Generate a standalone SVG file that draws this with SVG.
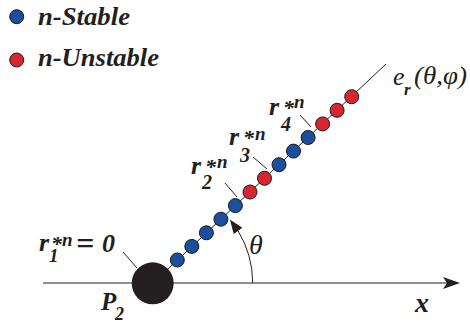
<svg xmlns="http://www.w3.org/2000/svg" width="470" height="324" viewBox="0 0 470 324">
<style>
text{font-family:"Liberation Serif","Times New Roman",serif;fill:#231f20}
.bi{font-weight:bold;font-style:italic}
.it{font-style:italic}
.b{fill:#1b4f9e;stroke:#1a1a1a;stroke-width:1}
.r{fill:#d7262f;stroke:#1a1a1a;stroke-width:1}
.ln{stroke:#231f20;stroke-width:1;fill:none}
</style>
<rect width="470" height="324" fill="#fff"/>
<g id="legend-stable">
<circle class="b" cx="16.7" cy="16.7" r="7"/>
<text class="bi" x="38" y="25" font-size="25" textLength="92" lengthAdjust="spacingAndGlyphs">n-Stable</text>
</g>
<g id="legend-unstable">
<circle class="r" cx="16.7" cy="60" r="7"/>
<text class="bi" x="38" y="66" font-size="25" textLength="121" lengthAdjust="spacingAndGlyphs">n-Unstable</text>
</g>
<g id="connectors">
<line class="ln" x1="43" y1="283" x2="448" y2="283" stroke-width="1.2"/>
<path d="M460,283 L443,277 L447,283 L443,289 Z" fill="#231f20"/>
<line class="ln" x1="152.7" y1="283.3" x2="386" y2="64"/>
<path class="ln" d="M252.7,283 A100,100 0 0 0 238,230.8"/>
<path d="M229.9,219.4 L242.3,227.7 L237.6,231.2 L233.7,233.9 Z" fill="#231f20"/>
<line class="ln" x1="123" y1="252" x2="137" y2="268"/>
<line class="ln" x1="225" y1="183" x2="237" y2="197"/>
<line class="ln" x1="253" y1="157" x2="267" y2="169"/>
<line class="ln" x1="300" y1="115" x2="311" y2="127"/>
</g>
<g id="P2">
<circle cx="152.7" cy="283.3" r="21" fill="#231f20"/>
<text class="bi" x="101" y="310" font-size="25">P<tspan x="115" y="320" font-size="18">2</tspan></text>
</g>
<g id="beads">
<g id="bead1"><circle class="b" cx="177.3" cy="260.0" r="7"/></g>
<g id="bead2"><circle class="b" cx="191.8" cy="246.4" r="7"/></g>
<g id="bead3"><circle class="b" cx="206.4" cy="232.8" r="7"/></g>
<g id="bead4"><circle class="b" cx="220.9" cy="219.2" r="7"/></g>
<g id="bead5"><circle class="b" cx="235.4" cy="205.6" r="7"/></g>
<g id="bead6"><circle class="r" cx="250.0" cy="192.0" r="7"/></g>
<g id="bead7"><circle class="r" cx="264.5" cy="178.3" r="7"/></g>
<g id="bead8"><circle class="b" cx="279.0" cy="164.7" r="7"/></g>
<g id="bead9"><circle class="b" cx="293.5" cy="151.1" r="7"/></g>
<g id="bead10"><circle class="b" cx="308.1" cy="137.5" r="7"/></g>
<g id="bead11"><circle class="r" cx="322.6" cy="123.9" r="7"/></g>
<g id="bead12"><circle class="r" cx="337.1" cy="110.3" r="7"/></g>
<g id="bead13"><circle class="r" cx="351.7" cy="96.7" r="7"/></g>
</g>
<g id="label-r1">
<text class="bi" x="39" y="251" font-size="26">r<tspan x="51" font-size="22">*</tspan><tspan x="62" y="246" font-size="19">n</tspan><tspan x="76" y="254" font-size="32">=</tspan><tspan x="102" y="252" font-size="26">0</tspan><tspan x="49" y="262" font-size="19">1</tspan></text>
</g>
<g id="label-r2">
<text class="bi" x="191" y="174" font-size="26">r<tspan x="205" font-size="22">*</tspan><tspan x="217" y="168" font-size="19">n</tspan><tspan x="202" y="189" font-size="20">2</tspan></text>
</g>
<g id="label-r3">
<text class="bi" x="229" y="145" font-size="26">r<tspan x="243" font-size="22">*</tspan><tspan x="255" y="140" font-size="19">n</tspan><tspan x="240" y="162" font-size="20">3</tspan></text>
</g>
<g id="label-r4">
<text class="bi" x="269" y="115" font-size="26">r<tspan x="283" font-size="22">*</tspan><tspan x="294" y="108" font-size="19">n</tspan><tspan x="281" y="131" font-size="20">4</tspan></text>
</g>
<g id="label-er">
<text class="it" x="393" y="85" font-size="26">e<tspan class="bi" x="404" y="95" font-size="17">r</tspan><tspan x="414" y="84" font-size="25" textLength="53" lengthAdjust="spacingAndGlyphs">(θ,φ)</tspan></text>
</g>
<g id="label-theta">
<text class="it" x="249" y="254" font-size="28">θ</text>
</g>
<g id="label-x">
<text class="bi" x="415" y="312" font-size="28">x</text>
</g>
</svg>
